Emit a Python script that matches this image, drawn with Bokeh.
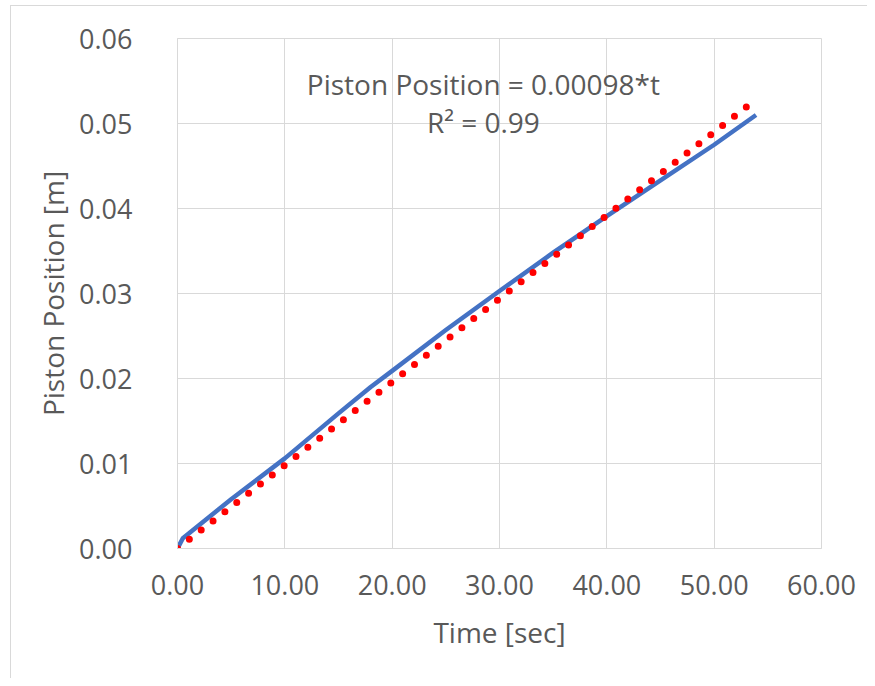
from bokeh.plotting import figure
from bokeh.models import Range1d, PrintfTickFormatter, FixedTicker, Label
from bokeh.embed import file_html
from bokeh.resources import INLINE

# measured data (blue line)
time_s = [0.0, 0.5, 5.0, 10.0, 15.0, 18.0, 20.0, 25.0, 30.0, 35.0, 40.0, 45.0, 50.0, 53.9]
position_m = [0.0, 0.0012, 0.0058, 0.0106, 0.0159, 0.0190, 0.0209, 0.0257, 0.0303, 0.0348, 0.0391, 0.0433, 0.0475, 0.0510]

# linear trendline through origin
trend_slope = 0.00098
trend_r2 = 0.99

x_ticks = [0, 10, 20, 30, 40, 50, 60]
y_ticks = [0.0, 0.01, 0.02, 0.03, 0.04, 0.05, 0.06]

FONT = "Open Sans"
TXT = "#595959"
GRID = "#D9D9D9"

p = figure(width=867, height=678, output_backend="svg", toolbar_location=None,
           x_range=Range1d(0, 60), y_range=Range1d(0, 0.06),
           min_border_left=166, min_border_right=46, min_border_top=32, min_border_bottom=130)
p.frame_width = 644
p.frame_height = 510
p.outline_line_color = GRID
p.background_fill_color = "white"
p.border_fill_color = "white"

for ax in (p.xaxis[0], p.yaxis[0]):
    ax.axis_line_color = GRID
    ax.major_tick_line_color = None
    ax.minor_tick_line_color = None
    ax.major_label_text_font = FONT
    ax.major_label_text_font_size = "27px"
    ax.major_label_text_color = TXT
    ax.axis_label_text_font = FONT
    ax.axis_label_text_font_size = "28px"
    ax.axis_label_text_color = TXT
    ax.axis_label_text_font_style = "normal"

p.xaxis.ticker = FixedTicker(ticks=x_ticks)
p.yaxis.ticker = FixedTicker(ticks=y_ticks)
p.xaxis.formatter = PrintfTickFormatter(format="%.2f")
p.yaxis.formatter = PrintfTickFormatter(format="%.2f")
p.xaxis.axis_label = "Time [sec]"
p.yaxis.axis_label = "Piston Position [m]"
p.xaxis.major_label_standoff = 20
p.yaxis.major_label_standoff = 39
p.xaxis.axis_label_standoff = 15
p.yaxis.axis_label_standoff = 4

p.xgrid.grid_line_color = GRID
p.ygrid.grid_line_color = GRID
p.xgrid.ticker = FixedTicker(ticks=x_ticks)
p.ygrid.ticker = FixedTicker(ticks=y_ticks)

# data line
p.line(time_s, position_m, line_color="#4472C4", line_width=4.5, line_join="round")

# trendline (red round dots)
t_end = max(time_s)
p.line([0.0, t_end], [0.0, trend_slope * t_end], line_color="#FF0000", line_width=7,
       line_dash="0 15", line_cap="round")

p.add_layout(Label(x=28.5, y=0.0547, text="Piston Position = %.5f*t" % trend_slope,
                   text_font=FONT, text_font_size="28px", text_color=TXT,
                   text_align="center", text_baseline="middle"))
p.add_layout(Label(x=28.5, y=0.0502, text="R² = %.2f" % trend_r2,
                   text_font=FONT, text_font_size="28px", text_color=TXT,
                   text_align="center", text_baseline="middle"))

p.styles = {"border-left": "1px solid #D9D9D9", "border-top": "1px solid #D9D9D9",
            "margin-left": "10px", "margin-top": "5px"}

open("out.html", "w").write(file_html(p, INLINE))
